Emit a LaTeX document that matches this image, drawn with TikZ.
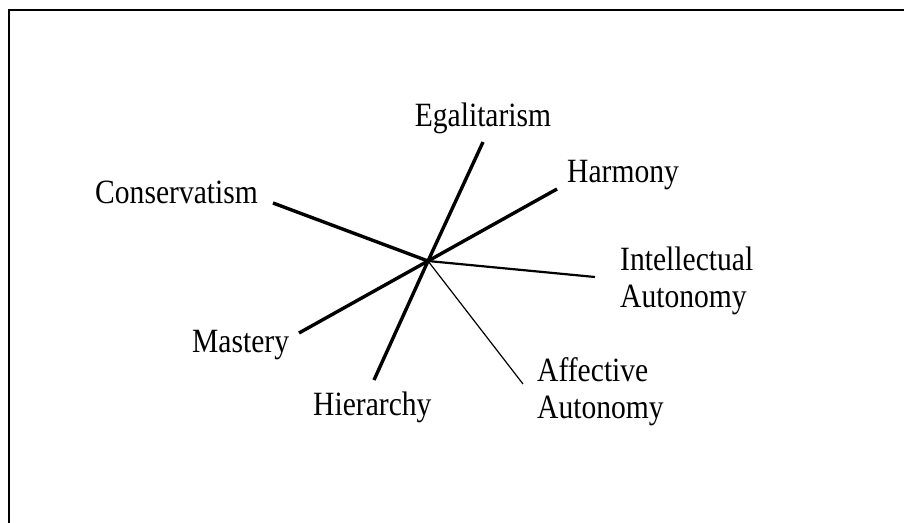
\documentclass[tikz,border=0pt]{standalone}
\usepackage{fontspec}
\setmainfont{Liberation Serif}[FakeStretch=0.87]
\usepackage{tikz}
\usetikzlibrary{positioning}

\begin{document}
\begin{tikzpicture}[x=1pt, y=-1pt]
	% Styles
	\tikzstyle{value} = [inner sep=0pt, align=left, font=\fontsize{34}{37}\selectfont]
	\tikzstyle{strong} = [line width=3.4pt]
	\tikzstyle{medium} = [line width=2.2pt]
	\tikzstyle{weak} = [line width=1.2pt]

	% Frame
	\useasboundingbox (0,0) rectangle (904,522);
	\draw [line width=2.4pt] (9,10) rectangle (930,550);

	% Centre and line ends
	\coordinate (centre) at (428,261);
	\coordinate (egal) at (483,142);
	\coordinate (hier) at (374,380);
	\coordinate (harm) at (557,189);
	\coordinate (mast) at (299,333);
	\coordinate (cons) at (273,203);
	\coordinate (intel) at (595,277);
	\coordinate (affect) at (523,384);

	% Labels with absolute coordinates
	\node (egalitarism) [value, anchor=base] at (483,126) {Egalitarism};
	\node (harmony) [value, anchor=base west] at (567,182) {Harmony};
	\node (conservatism) [value, anchor=base west] at (95,203) {Conservatism};
	\node (intellectual) [value, anchor=north west] at (620,247) {Intellectual\\Autonomy};
	\node (mastery) [value, anchor=base west] at (192,352) {Mastery};
	\node (hierarchy) [value, anchor=base west] at (313,415) {Hierarchy};
	\node (affective) [value, anchor=north west] at (537,357) {Affective\\Autonomy};

	% Connections
	\draw [strong] (egal) -- (centre) -- (hier);
	\draw [strong] (harm) -- (centre) -- (mast);
	\draw [strong] (cons) -- (centre);
	\draw [medium] (centre) -- (intel);
	\draw [weak] (centre) -- (affect);

\end{tikzpicture}
\end{document}
